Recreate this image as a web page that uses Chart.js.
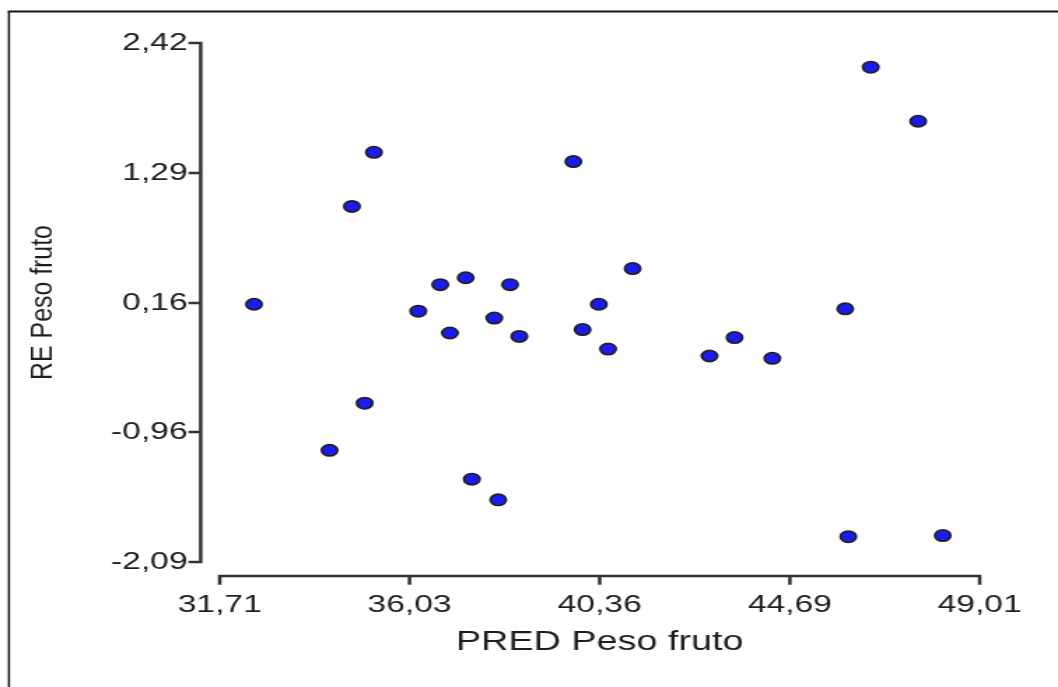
<!DOCTYPE html>
<html>
<head>
<meta charset="utf-8">
<script src="https://cdn.jsdelivr.net/npm/chart.js@4"></script>
<style>
  html, body { margin: 0; padding: 0; background: #fff; overflow: hidden; }
  /* the plot is drawn narrow and stretched sideways */
  #wrap { width: 756px; height: 687px; transform: scaleX(1.3995); transform-origin: 0 0; }
</style>
</head>
<body>
<div id="wrap"><canvas id="residChart"></canvas></div>
<script>
// predicted fruit weight and its residual
const predValues = [32.49, 34.21, 34.72, 35.01, 35.22, 36.23, 36.73, 36.95, 37.31, 37.45,
                    37.96, 38.05, 38.32, 38.53, 39.76, 39.97, 40.34, 40.55, 41.11, 42.86,
                    43.43, 44.29, 45.95, 46.02, 46.53, 47.61, 48.17];
const resValues = [0.15, -1.12, 1.00, -0.71, 1.47, 0.09, 0.32, -0.10, 0.38, -1.37,
                   0.03, -1.55, 0.32, -0.13, 1.39, -0.07, 0.15, -0.24, 0.46, -0.30,
                   -0.14, -0.32, 0.11, -1.87, 2.21, 1.74, -1.86];
const xTicks = [31.71, 36.03, 40.36, 44.69, 49.01];
const yTicks = [2.42, 1.29, 0.16, -0.96, -2.09];
const xTitle = 'PRED Peso fruto';
const yTitle = 'RE Peso fruto';

const fontFamily = "'Liberation Sans', Arial, sans-serif";
const inkColor = '#1e1e1e';

function commaNum(v) {
  return v.toFixed(2).replace('.', ',');
}

// frame, detached axis lines and the rotated y title
const offsetAxes = {
  id: 'offsetAxes',
  beforeDatasetsDraw(chart) {
    const ctx = chart.ctx;
    const xs = chart.scales.x;
    const ys = chart.scales.y;
    const area = chart.chartArea;
    ctx.save();

    // outer frame (left + top)
    ctx.strokeStyle = '#111';
    ctx.lineWidth = 1.5;
    ctx.beginPath();
    ctx.moveTo(6.4, 11.5);
    ctx.lineTo(6.4, chart.height);
    ctx.stroke();
    ctx.lineWidth = 2;
    ctx.beginPath();
    ctx.moveTo(5.6, 11.5);
    ctx.lineTo(chart.width, 11.5);
    ctx.stroke();

    ctx.strokeStyle = '#333';
    ctx.lineWidth = 2.5;
    ctx.lineCap = 'square';

    // y axis
    const ax = area.left - 13.6;
    ctx.beginPath();
    ctx.moveTo(ax, ys.getPixelForValue(yTicks[0]));
    ctx.lineTo(ax, ys.getPixelForValue(yTicks[yTicks.length - 1]));
    yTicks.forEach(v => {
      const py = ys.getPixelForValue(v);
      ctx.moveTo(ax - 7.5, py);
      ctx.lineTo(ax, py);
    });
    ctx.stroke();

    // x axis
    const ay = area.bottom + 14;
    ctx.beginPath();
    ctx.moveTo(xs.getPixelForValue(xTicks[0]), ay);
    ctx.lineTo(xs.getPixelForValue(xTicks[xTicks.length - 1]), ay);
    xTicks.forEach(v => {
      const px = xs.getPixelForValue(v);
      ctx.moveTo(px, ay);
      ctx.lineTo(px, ay + 7.5);
    });
    ctx.stroke();

    // y title
    ctx.fillStyle = inkColor;
    ctx.font = '22px ' + fontFamily;
    ctx.textAlign = 'center';
    ctx.textBaseline = 'middle';
    ctx.translate(31.2, (area.top + area.bottom) / 2);
    ctx.rotate(-Math.PI / 2);
    ctx.scale(1.13, 1);
    ctx.fillText(yTitle, 0, 0);

    ctx.restore();
  }
};

const points = predValues.map((x, i) => ({ x: x, y: resValues[i] }));

new Chart(document.getElementById('residChart'), {
  type: 'scatter',
  data: {
    datasets: [{
      data: points,
      backgroundColor: '#1a1aff',
      borderColor: '#222',
      borderWidth: 1.8,
      pointRadius: 5.6,
      pointHoverRadius: 5.6
    }]
  },
  options: {
    responsive: true,
    maintainAspectRatio: false,
    animation: false,
    events: [],
    layout: { padding: { top: 43, right: 56, bottom: 0, left: 0 } },
    plugins: {
      legend: { display: false },
      tooltip: { enabled: false }
    },
    scales: {
      x: {
        type: 'linear',
        min: xTicks[0],
        max: xTicks[xTicks.length - 1],
        grid: { display: false, drawTicks: false },
        border: { display: false },
        afterBuildTicks: scale => { scale.ticks = xTicks.map(v => ({ value: v })); },
        afterFit: scale => {
          scale.height = 125;
          // edge labels fit inside the layout padding already
          scale.paddingLeft = 0;
          scale.paddingRight = 0;
        },
        ticks: {
          padding: 29,
          color: inkColor,
          font: { family: fontFamily, size: 24 },
          maxRotation: 0,
          callback: v => commaNum(v)
        },
        title: {
          display: true,
          text: xTitle,
          color: inkColor,
          font: { family: fontFamily, size: 27 },
          padding: { top: 0, bottom: 28 }
        }
      },
      y: {
        type: 'linear',
        min: yTicks[yTicks.length - 1],
        max: yTicks[0],
        grid: { display: false, drawTicks: false },
        border: { display: false },
        afterBuildTicks: scale => { scale.ticks = yTicks.map(v => ({ value: v })); },
        afterFit: scale => { scale.width = 157; },
        ticks: {
          padding: 23,
          color: inkColor,
          font: { family: fontFamily, size: 24 },
          callback: v => commaNum(v)
        }
      }
    }
  },
  plugins: [offsetAxes]
});
</script>
</body>
</html>
